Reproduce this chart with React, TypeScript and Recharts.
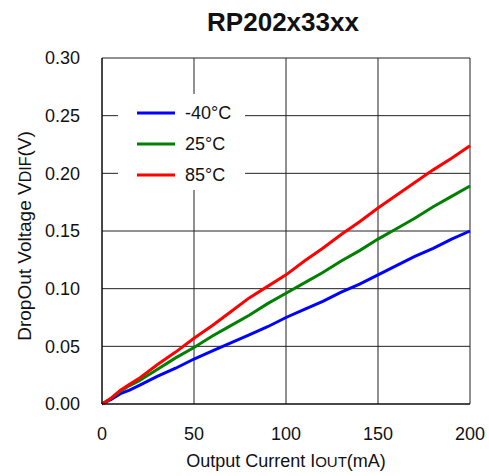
import React from 'react';
import { LineChart, Line, XAxis, YAxis, CartesianGrid, Legend } from 'recharts';

// output current (mA)
const current = [0, 5, 10, 15, 20, 30, 40, 50, 60, 70, 80, 90, 100, 110, 120, 130, 140, 150, 160, 170, 180, 190, 200];
// dropout voltage (V) per temperature
const vMinus40 = [0, 0.004, 0.009, 0.012, 0.016, 0.024, 0.031, 0.039, 0.046, 0.053, 0.06, 0.067, 0.075, 0.082, 0.089, 0.097, 0.104, 0.112, 0.12, 0.128, 0.135, 0.143, 0.15];
const v25 = [0, 0.005, 0.011, 0.016, 0.02, 0.03, 0.04, 0.049, 0.059, 0.068, 0.077, 0.087, 0.096, 0.105, 0.114, 0.124, 0.133, 0.143, 0.152, 0.161, 0.171, 0.18, 0.189];
const v85 = [0, 0.005, 0.012, 0.017, 0.022, 0.034, 0.045, 0.057, 0.068, 0.08, 0.092, 0.102, 0.112, 0.124, 0.135, 0.147, 0.158, 0.17, 0.181, 0.192, 0.203, 0.213, 0.224];

const xTicks = [0, 50, 100, 150, 200];
const yTicks = [0, 0.05, 0.1, 0.15, 0.2, 0.25, 0.3];

const FONT = '"Liberation Sans", Arial, Helvetica, sans-serif';

const data = current.map((i, idx) => ({
  i,
  m40: vMinus40[idx],
  t25: v25[idx],
  t85: v85[idx],
}));

const LegendBox = (props: any) => {
  const { payload } = props;
  return (
    <svg width={127} height={96} style={{ display: 'block', background: '#fff' }}>
      {(payload || []).map((p: any, k: number) => {
        const y = 19 + k * 31;
        return (
          <g key={p.value}>
            <line x1={19} x2={57} y1={y} y2={y} stroke={p.color} strokeWidth={3} />
            <text x={67} y={y} dy="0.36em" fontSize={18} fontFamily={FONT} fill="#111">
              {p.value}
            </text>
          </g>
        );
      })}
    </svg>
  );
};

const XLabel = (props: any) => {
  const { viewBox } = props;
  const cx = viewBox.x + viewBox.width / 2;
  return (
    <text x={cx} y={467} textAnchor="middle" fontSize={18} fontFamily={FONT} fill="#111">
      Output Current I<tspan fontSize={15}>OUT</tspan>(mA)
    </text>
  );
};

const YLabel = () => {
  return (
    <text
      x={0}
      y={0}
      transform="translate(31 236) rotate(-90)"
      textAnchor="middle"
      fontSize={19}
      fontFamily={FONT}
      fill="#111"
    >
      DropOut Voltage V<tspan fontSize={16}>DIF</tspan>(V)
    </text>
  );
};

const App: React.FC = () => {
  return (
    <div style={{ position: 'absolute', left: 0, top: 0, width: 489, height: 476, background: '#fff', fontFamily: FONT }}>
      <svg width={489} height={50} style={{ position: 'absolute', left: 0, top: 0 }}>
        <text x={283} y={31} textAnchor="middle" fontSize={26} fontWeight="bold" fontFamily={FONT} fill="#111">
          RP202x33xx
        </text>
      </svg>
      <LineChart width={489} height={476} data={data} margin={{ top: 58, right: 19, left: 0, bottom: 0 }}>
        <CartesianGrid stroke="#222" strokeWidth={1} />
        <XAxis
          dataKey="i"
          type="number"
          domain={[0, 200]}
          ticks={xTicks}
          height={72}
          tickSize={0}
          tickMargin={23}
          axisLine={{ stroke: '#000' }}
          tick={{ fontSize: 18, fill: '#111', fontFamily: FONT }}
          label={<XLabel />}
        />
        <YAxis
          type="number"
          domain={[0, 0.3]}
          ticks={yTicks}
          width={102}
          tickSize={0}
          tickMargin={22}
          axisLine={{ stroke: '#000' }}
          tick={{ fontSize: 18, fill: '#111', fontFamily: FONT }}
          tickFormatter={(v: number) => v.toFixed(2)}
          label={<YLabel />}
        />
        <Legend
          layout="vertical"
          align="center"
          verticalAlign="middle"
          content={<LegendBox />}
          wrapperStyle={{ left: 118, top: 94, width: 127, height: 96 }}
        />
        <Line name="-40°C" dataKey="m40" type="linear" stroke="#0000ff" strokeWidth={3} dot={false} isAnimationActive={false} />
        <Line name="25°C" dataKey="t25" type="linear" stroke="#008000" strokeWidth={3} dot={false} isAnimationActive={false} />
        <Line name="85°C" dataKey="t85" type="linear" stroke="#ff0000" strokeWidth={3} dot={false} isAnimationActive={false} />
      </LineChart>
    </div>
  );
};

export default App;
